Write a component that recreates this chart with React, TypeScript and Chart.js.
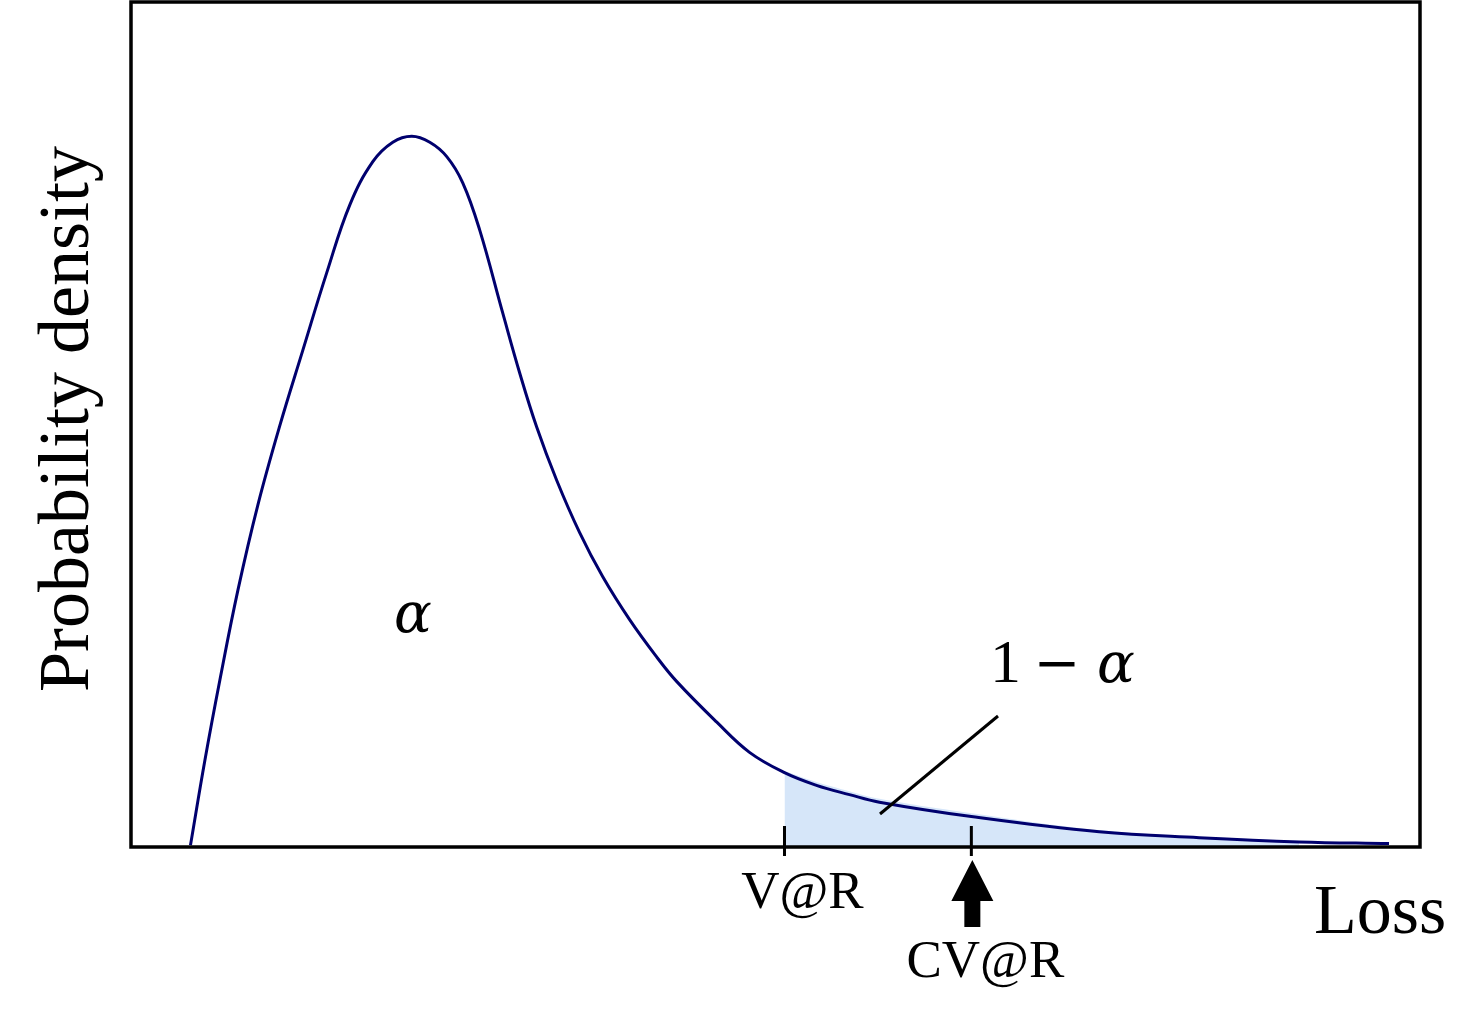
import React, { useEffect, useRef } from "react";
import { Chart, registerables } from "chart.js";

Chart.register(...registerables);

// Loss values (x) and probability density (y)
const lossValues = [0.595, 0.74, 0.89, 1.07, 1.27, 1.49, 1.72, 1.96, 2.19, 2.42, 2.62, 2.81, 2.99, 3.16, 3.32, 3.49, 3.72, 3.89, 4.06, 4.26, 4.49, 4.72, 4.99, 5.26, 5.46, 5.86, 6.19, 6.54, 6.86, 7.19, 7.49, 8.41, 9.69, 10.69, 11.69, 12.59];
const densityValues = [0.002, 0.103, 0.198, 0.304, 0.405, 0.499, 0.588, 0.68, 0.76, 0.811, 0.834, 0.841, 0.834, 0.817, 0.786, 0.73, 0.632, 0.561, 0.497, 0.434, 0.372, 0.32, 0.269, 0.225, 0.196, 0.148, 0.112, 0.088, 0.073, 0.062, 0.053, 0.036, 0.018, 0.011, 0.006, 0.004];

// Shaded tail (1 - alpha region)
const tailLoss = [6.54, 6.86, 7.19, 7.49, 8.41, 9.69, 10.69, 11.69];
const tailDensity = [0.09, 0.077, 0.066, 0.057, 0.04, 0.02, 0.012, 0.007];

const varLoss = 6.54;
const cvarLoss = 8.41;
const xMin = 0;
const xMax = 12.9;
const yMin = 0;
const yMax = 1;

const labelVar = "V@R";
const labelCvar = "CV@R";
const labelLoss = "Loss";
const labelY = "Probability density";

const SERIF = '"Liberation Serif", "Times New Roman", Times, serif';
const MATH = '"DejaVu Serif", serif';

const overlayPlugin = {
  id: "overlay",
  afterDraw(chart: any) {
    const { ctx, chartArea, scales } = chart;
    const xs = scales.x;
    const ys = scales.y;
    ctx.save();
    // frame
    ctx.strokeStyle = "#000";
    ctx.lineWidth = 3.5;
    ctx.strokeRect(chartArea.left, chartArea.top, chartArea.right - chartArea.left, chartArea.bottom - chartArea.top);

    const base = ys.getPixelForValue(0);
    const vx = xs.getPixelForValue(varLoss);
    const cx = xs.getPixelForValue(cvarLoss);

    // tick marks
    ctx.lineWidth = 3;
    ctx.beginPath();
    ctx.moveTo(vx, base - 21);
    ctx.lineTo(vx, base + 9);
    ctx.moveTo(cx, base - 21);
    ctx.lineTo(cx, base + 9);
    ctx.stroke();

    // arrow under CV@R
    ctx.fillStyle = "#000";
    ctx.beginPath();
    ctx.moveTo(cx + 1, base + 13);
    ctx.lineTo(cx + 22, base + 54);
    ctx.lineTo(cx + 9, base + 54);
    ctx.lineTo(cx + 9, base + 80);
    ctx.lineTo(cx - 7, base + 80);
    ctx.lineTo(cx - 7, base + 54);
    ctx.lineTo(cx - 20, base + 54);
    ctx.closePath();
    ctx.fill();

    // leader line for 1 - alpha
    ctx.lineWidth = 3;
    ctx.beginPath();
    ctx.moveTo(880, 814);
    ctx.lineTo(998, 716);
    ctx.stroke();

    // texts
    ctx.fillStyle = "#000";
    ctx.textBaseline = "alphabetic";
    ctx.font = `53px ${SERIF}`;
    ctx.textAlign = "center";
    ctx.fillText(labelVar, vx + 18, 908);
    ctx.fillText(labelCvar, cx + 14, 977);

    ctx.font = `70px ${SERIF}`;
    ctx.textAlign = "left";
    ctx.fillText(labelLoss, 1314, 933);

    ctx.save();
    ctx.translate(88, 419);
    ctx.rotate(-Math.PI / 2);
    ctx.textAlign = "center";
    ctx.font = `72px ${SERIF}`;
    ctx.fillText(labelY, 0, 0);
    ctx.restore();

    ctx.font = `italic 56px ${MATH}`;
    ctx.textAlign = "center";
    ctx.fillText("α", 413, 632);

    ctx.font = `62px ${SERIF}`;
    ctx.textAlign = "left";
    ctx.fillText("1", 990, 682);
    ctx.font = `56px ${MATH}`;
    ctx.textAlign = "center";
    ctx.fillText("−", 1057, 682);
    ctx.font = `italic 56px ${MATH}`;
    ctx.textAlign = "left";
    ctx.fillText("α", 1097, 682);

    ctx.restore();
  },
};

export default function App() {
  const canvasRef = useRef<HTMLCanvasElement | null>(null);

  useEffect(() => {
    if (!canvasRef.current) return;
    const chart = new Chart(canvasRef.current, {
      type: "line",
      data: {
        datasets: [
          {
            label: "density",
            data: lossValues.map((x, i) => ({ x, y: densityValues[i] })),
            borderColor: "#00006e",
            borderWidth: 3,
            pointRadius: 0,
            fill: false,
            tension: 0.4,
            order: 0,
          },
          {
            label: "tail",
            data: tailLoss.map((x, i) => ({ x, y: tailDensity[i] })),
            borderWidth: 0,
            borderColor: "rgba(0,0,0,0)",
            backgroundColor: "#d6e6f9",
            pointRadius: 0,
            fill: "origin",
            tension: 0.4,
            order: 1,
          },
        ],
      },
      options: {
        animation: false,
        responsive: false,
        maintainAspectRatio: false,
        layout: { padding: { left: 131, right: 56, top: 2, bottom: 167 } },
        plugins: { legend: { display: false }, tooltip: { enabled: false } },
        scales: {
          x: { type: "linear", min: xMin, max: xMax, display: false },
          y: { type: "linear", min: yMin, max: yMax, display: false },
        },
      },
      plugins: [overlayPlugin],
    } as any);
    let alive = true;
    const fonts = (document as any).fonts;
    if (fonts && fonts.load) {
      Promise.all([
        fonts.load(`53px "Liberation Serif"`),
        fonts.load(`italic 56px "DejaVu Serif"`),
      ]).then(() => {
        if (alive) chart.draw();
      }).catch(() => {});
    }
    return () => {
      alive = false;
      chart.destroy();
    };
  }, []);

  return (
    <div style={{ position: "fixed", left: 0, top: 0, width: 1476, height: 1014, background: "#fff" }}>
      <canvas ref={canvasRef} width={1476} height={1014} style={{ width: 1476, height: 1014 }} />
    </div>
  );
}
